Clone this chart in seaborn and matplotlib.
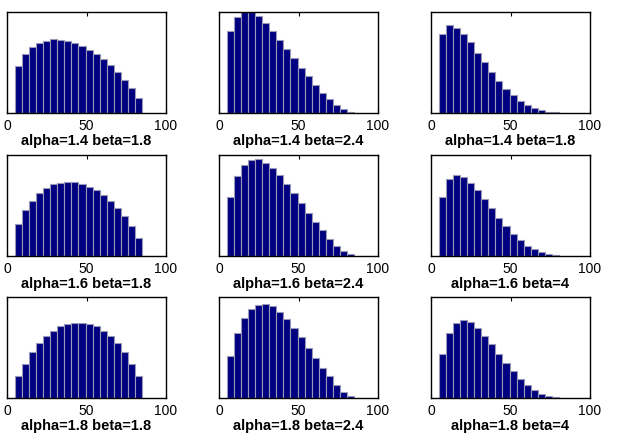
import numpy as np
import pandas as pd
import matplotlib
matplotlib.use('Agg')
import matplotlib.pyplot as plt
import seaborn as sns

# Bar heights (percent of each panel's height)
h_14_18 = [46.2, 58.4, 65.0, 69.3, 71.3, 72.9, 72.3, 71.6, 69.3, 66.0,
           62.7, 58.4, 53.5, 47.9, 40.6, 33.0, 24.4, 14.5]
h_14_24 = [80.9, 95.0, 100.0, 100.0, 95.7, 89.1, 80.9, 72.6, 63.4, 54.5,
           44.6, 36.3, 28.1, 19.8, 13.9, 8.3, 4.3, 1.3]
h_14_18b = [78.2, 86.8, 84.2, 78.5, 70.0, 59.4, 50.5, 40.6, 32.0, 24.1,
            17.5, 12.2, 7.6, 4.6, 2.6, 1.0, 0.5, 0.3]
h_16_18 = [31.4, 45.2, 54.5, 62.4, 67.0, 71.0, 72.3, 72.9, 72.9, 71.6,
           68.6, 65.0, 60.4, 54.5, 47.2, 39.3, 29.7, 17.5]
h_16_24 = [58.1, 79.5, 90.1, 94.7, 95.7, 91.7, 87.1, 80.5, 71.6, 62.7,
           52.8, 42.9, 34.0, 25.4, 17.2, 9.9, 5.0, 1.7]
h_16_4 = [58.7, 75.9, 80.2, 78.5, 72.6, 65.3, 56.1, 47.2, 38.0, 29.7,
          21.5, 15.8, 9.9, 6.6, 3.6, 1.7, 0.7, 0.3]
h_18_18 = [21.3, 34.0, 45.3, 54.0, 61.3, 66.7, 71.0, 73.3, 74.7, 74.7,
           73.3, 71.0, 66.7, 61.3, 54.0, 45.3, 34.0, 21.3]
h_18_24 = [41.3, 64.7, 79.3, 88.3, 92.3, 93.3, 90.7, 85.0, 78.7, 69.3,
           60.0, 50.0, 40.0, 30.0, 21.3, 13.3, 6.3, 2.0]
h_18_4 = [44.0, 64.7, 74.0, 77.3, 75.0, 69.0, 61.7, 53.0, 44.0, 35.0,
          26.3, 19.0, 13.0, 8.0, 4.3, 2.0, 0.7, 0.3]

titles = ["alpha=1.4 beta=1.8", "alpha=1.4 beta=2.4", "alpha=1.4 beta=1.8",
          "alpha=1.6 beta=1.8", "alpha=1.6 beta=2.4", "alpha=1.6 beta=4",
          "alpha=1.8 beta=1.8", "alpha=1.8 beta=2.4", "alpha=1.8 beta=4"]
heights = [h_14_18, h_14_24, h_14_18b, h_16_18, h_16_24, h_16_4,
           h_18_18, h_18_24, h_18_4]

first_edge = 4.9
bin_width = 4.45
x_ticks = [0, 50, 100]

sns.set_style("white")
plt.rcParams['font.family'] = ['Liberation Sans', 'DejaVu Sans']

fig = plt.figure(figsize=(6.28, 4.36), dpi=100)

lefts = [7, 219, 431]
tops = [12, 155, 297]
W, H = 159, 101

for i, (hts, title) in enumerate(zip(heights, titles)):
    r, c = divmod(i, 3)
    ax = fig.add_axes([lefts[c] / 628, 1 - (tops[r] + H) / 436, W / 628, H / 436])
    n = len(hts)
    edges = first_edge + bin_width * np.arange(n + 1)
    df = pd.DataFrame({"x": (edges[:-1] + edges[1:]) / 2, "h": hts})
    sns.histplot(data=df, x="x", weights="h", bins=edges.tolist(), ax=ax,
                 color='#000080', edgecolor='#9a9ab8', linewidth=0.8, alpha=1)
    ax.set_xlim(0, 100)
    ax.set_ylim(0, 100)
    ax.set_xticks(x_ticks)
    ax.set_yticks([])
    ax.set_ylabel('')
    ax.tick_params(axis='x', direction='in', length=3, top=True, bottom=True,
                   labelsize=10, pad=4, colors='black', labelcolor='black')
    for s in ax.spines.values():
        s.set_color('black')
        s.set_linewidth(1.0)
    ax.set_xlabel(title, fontsize=10.5, fontweight='bold', labelpad=1,
                  color='black')

fig.savefig('out.png', dpi=100, facecolor='white')
